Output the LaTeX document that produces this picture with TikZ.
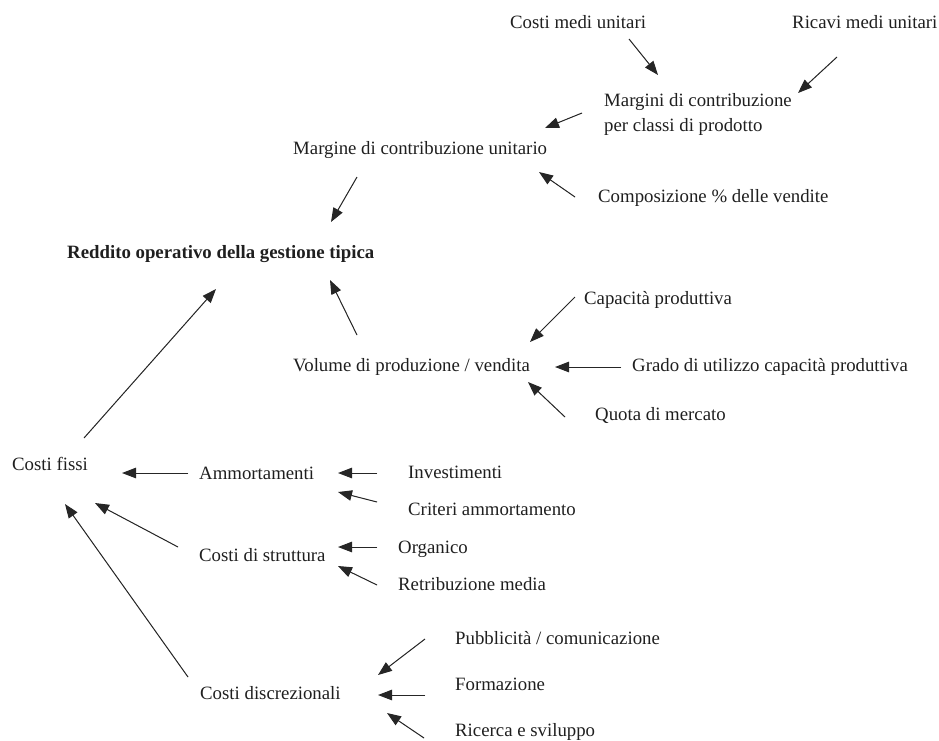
\documentclass[tikz,border=0pt]{standalone}
\usepackage{fontspec}
\setmainfont{Liberation Serif}
\usetikzlibrary{arrows.meta}
\tikzset{
  lbl/.style={anchor=base west, inner sep=0pt, text=black!88, font=\fontsize{18.8}{25}\selectfont},
  lblbold/.style={lbl, font=\fontsize{18.8}{25}\selectfont\bfseries},
  arr/.style={line width=1pt, draw=black!85, fill=black!85, -{Triangle[length=14pt,width=10.5pt]}}
}
\begin{document}
\begin{tikzpicture}[x=1pt,y=-1pt]
\useasboundingbox (0,0) rectangle (939,740);
% texts
\node[lbl] (cmu) at (510,28) {Costi medi unitari};
\node[lbl] (rmu) at (792,28) {Ricavi medi unitari};
\node[lbl, anchor=north west, align=left] (mcp) at (604,93) {Margini di contribuzione\\per classi di prodotto};
\node[lbl] (mcu) at (293,154) {Margine di contribuzione unitario};
\node[lbl] (comp) at (598,202) {Composizione \% delle vendite};
\node[lblbold] (red) at (67,258) {Reddito operativo della gestione tipica};
\node[lbl] (cap) at (584,304) {Capacità produttiva};
\node[lbl] (vol) at (293,371) {Volume di produzione / vendita};
\node[lbl] (grado) at (632,371) {Grado di utilizzo capacità produttiva};
\node[lbl] (quota) at (595,420) {Quota di mercato};
\node[lbl] (cf) at (12,470) {Costi fissi};
\node[lbl] (amm) at (199,479) {Ammortamenti};
\node[lbl] (inv) at (408,478) {Investimenti};
\node[lbl] (crit) at (408,515) {Criteri ammortamento};
\node[lbl] (org) at (398,553) {Organico};
\node[lbl] (cds) at (199,561) {Costi di struttura};
\node[lbl] (retr) at (398,590) {Retribuzione media};
\node[lbl] (pub) at (455,644) {Pubblicità / comunicazione};
\node[lbl] (form) at (455,690) {Formazione};
\node[lbl] (cd) at (200,699) {Costi discrezionali};
\node[lbl] (ric) at (455,736) {Ricerca e sviluppo};
% connector end points
\coordinate (cmu-s) at (629,39);  \coordinate (mcp-t1) at (658,75);
\coordinate (rmu-s) at (837,57);  \coordinate (mcp-t2) at (798,93);
\coordinate (mcp-s) at (582,113); \coordinate (mcu-t1) at (545,128);
\coordinate (comp-s) at (575,197); \coordinate (mcu-t2) at (539,172);
\coordinate (mcu-s) at (357,177); \coordinate (red-t1) at (331,222);
\coordinate (vol-s) at (357,335); \coordinate (red-t2) at (330,280);
\coordinate (cf-s) at (84,438);   \coordinate (red-t3) at (216,289);
\coordinate (cap-s) at (575,297); \coordinate (vol-t1) at (530,342);
\coordinate (grado-s) at (621,367); \coordinate (vol-t2) at (555,367);
\coordinate (quota-s) at (565,417); \coordinate (vol-t3) at (528,382);
\coordinate (amm-s) at (188,473); \coordinate (cf-t1) at (122,473);
\coordinate (inv-s) at (377,473); \coordinate (amm-t1) at (338,473);
\coordinate (crit-s) at (377,502); \coordinate (amm-t2) at (338,492);
\coordinate (cds-s) at (178,547); \coordinate (cf-t2) at (95,503);
\coordinate (cd-s) at (188,677);  \coordinate (cf-t3) at (65,504);
\coordinate (org-s) at (377,547); \coordinate (cds-t1) at (338,547);
\coordinate (retr-s) at (377,585); \coordinate (cds-t2) at (338,566);
\coordinate (pub-s) at (425,639); \coordinate (cd-t1) at (378,675);
\coordinate (form-s) at (425,695); \coordinate (cd-t2) at (378,695);
\coordinate (ric-s) at (424,738); \coordinate (cd-t3) at (387,713);
% connectors
\draw[arr] (cmu-s) -- (mcp-t1);
\draw[arr] (rmu-s) -- (mcp-t2);
\draw[arr] (mcp-s) -- (mcu-t1);
\draw[arr] (comp-s) -- (mcu-t2);
\draw[arr] (mcu-s) -- (red-t1);
\draw[arr] (vol-s) -- (red-t2);
\draw[arr] (cf-s) -- (red-t3);
\draw[arr] (cap-s) -- (vol-t1);
\draw[arr] (grado-s) -- (vol-t2);
\draw[arr] (quota-s) -- (vol-t3);
\draw[arr] (amm-s) -- (cf-t1);
\draw[arr] (inv-s) -- (amm-t1);
\draw[arr] (crit-s) -- (amm-t2);
\draw[arr] (cds-s) -- (cf-t2);
\draw[arr] (cd-s) -- (cf-t3);
\draw[arr] (org-s) -- (cds-t1);
\draw[arr] (retr-s) -- (cds-t2);
\draw[arr] (pub-s) -- (cd-t1);
\draw[arr] (form-s) -- (cd-t2);
\draw[arr] (ric-s) -- (cd-t3);
\end{tikzpicture}
\end{document}
